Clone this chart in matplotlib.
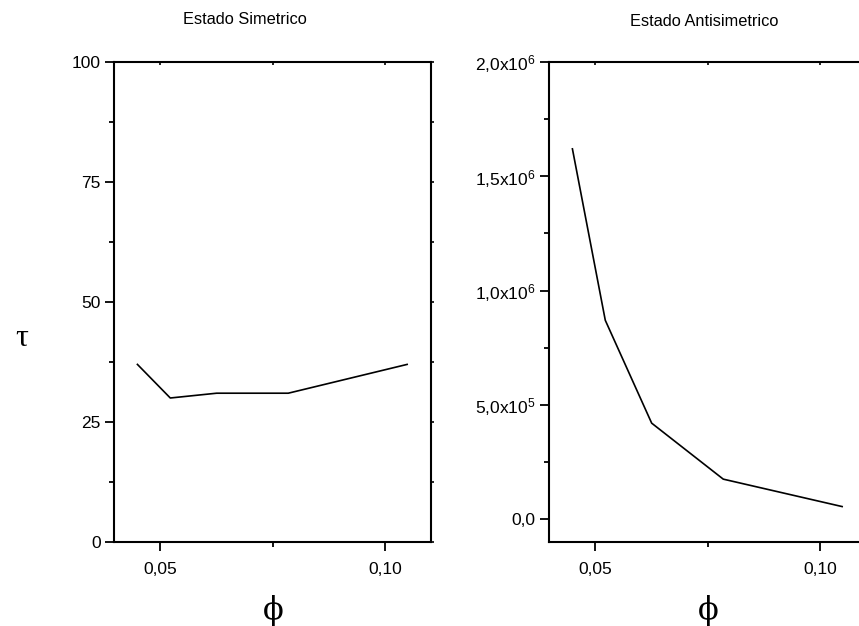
import math
import matplotlib
matplotlib.use("Agg")
import matplotlib.pyplot as plt
from matplotlib.ticker import FixedLocator, FuncFormatter, MultipleLocator

plt.rcParams['font.family'] = ['Liberation Sans', 'DejaVu Sans']
plt.rcParams['mathtext.default'] = 'regular'

phi = [0.045, 0.0523, 0.0626, 0.0785, 0.1049]
tau_sim = [37.0, 30.0, 31.0, 31.0, 37.0]
tau_anti = [1.62e6, 0.87e6, 0.42e6, 0.175e6, 0.055e6]

title_sim = "Estado Simetrico"
title_anti = "Estado Antisimetrico"
xticks = [0.05, 0.10]
xticklabels = ["0,05", "0,10"]
yticks_sim = [0, 25, 50, 75, 100]
yticks_anti = [0.0, 0.5e6, 1.0e6, 1.5e6, 2.0e6]

W, H = 859, 626
fig = plt.figure(figsize=(W / 100, H / 100), dpi=100)

ax1 = fig.add_axes([114 / W, 1 - 542 / H, 317 / W, 480 / H])
ax2 = fig.add_axes([549 / W, 1 - 542 / H, 317 / W, 480 / H])


def style(ax):
    for s in ax.spines.values():
        s.set_linewidth(1.5)
    ax.set_xlim(0.0398, 0.1102)
    ax.xaxis.set_major_locator(FixedLocator(xticks))
    ax.set_xticklabels(xticklabels)
    ax.xaxis.set_minor_locator(FixedLocator([0.075]))
    ax.tick_params(which='major', direction='out', length=6.5, width=1.3,
                   labelsize=12.5, pad=3)
    ax.tick_params(which='minor', direction='out', length=3.5, width=1.3)
    ax.tick_params(axis='x', which='major', pad=8)


def mirror(ax, ylim, ymaj, ymin_step):
    axt = ax.twiny()
    axt.set_xlim(ax.get_xlim())
    axt.xaxis.set_major_locator(FixedLocator(xticks))
    axt.xaxis.set_minor_locator(FixedLocator([0.075]))
    axt.tick_params(which='both', direction='in', length=2, width=1.2, labeltop=False)
    axr = ax.twinx()
    axr.set_ylim(ylim)
    axr.yaxis.set_major_locator(FixedLocator(ymaj))
    axr.yaxis.set_minor_locator(MultipleLocator(ymin_step))
    axr.tick_params(which='both', direction='out', length=2, width=1.2, labelright=False)
    for a in (axt, axr):
        for s in a.spines.values():
            s.set_visible(False)


ax1.plot(phi, tau_sim, color='black', lw=1.2)
style(ax1)
ax1.set_ylim(0, 100)
ax1.yaxis.set_major_locator(FixedLocator(yticks_sim))
ax1.yaxis.set_minor_locator(MultipleLocator(12.5))
mirror(ax1, (0, 100), yticks_sim, 12.5)

ax2.plot(phi, tau_anti, color='black', lw=1.2)
style(ax2)
ax2.set_ylim(-0.1e6, 2.0e6)
ax2.yaxis.set_major_locator(FixedLocator(yticks_anti))
ax2.yaxis.set_minor_locator(MultipleLocator(0.25e6))
mirror(ax2, (-0.1e6, 2.0e6), yticks_anti, 0.25e6)


def fmt(v, pos):
    if v == 0:
        return "0,0"
    e = int(math.floor(math.log10(abs(v))))
    m = v / 10 ** e
    return (f"{m:.1f}".replace('.', ',')) + "x10$^{" + str(e) + "}$"


ax2.yaxis.set_major_formatter(FuncFormatter(fmt))

fig.text(245 / W, 1 - 20 / H, title_sim, ha='center', va='center', fontsize=11.8)
fig.text(704 / W, 1 - 22 / H, title_anti, ha='center', va='center', fontsize=11.8)

fig.text(22 / W, 1 - 338 / H, "τ", ha='center', va='center', fontsize=23,
         family=['Liberation Serif', 'DejaVu Serif'])
fig.text(273 / W, 1 - 611 / H, "ϕ", ha='center', va='center', fontsize=22,
         family=['DejaVu Serif'])
fig.text(708.5 / W, 1 - 611 / H, "ϕ", ha='center', va='center', fontsize=22,
         family=['DejaVu Serif'])

fig.savefig("out.png", dpi=100)
